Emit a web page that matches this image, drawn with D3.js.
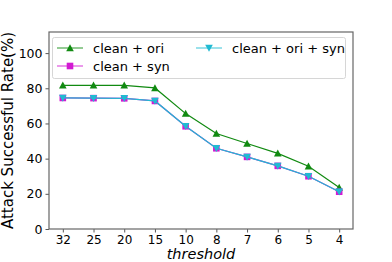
<!DOCTYPE html>
<html>
<head>
<meta charset="utf-8">
<script src="https://cdn.jsdelivr.net/npm/d3@7"></script>
<style>
  body { margin: 0; background: #fff; }
  text { font-family: "DejaVu Sans", sans-serif; fill: #000; }
</style>
</head>
<body>
<script>
var thresholds = ["32", "25", "20", "15", "10", "8", "7", "6", "5", "4"];
var cleanOri = [81.7, 81.7, 81.7, 80.2, 65.6, 54.3, 48.6, 43.0, 35.7, 23.6];
var cleanSyn = [74.5, 74.4, 74.3, 72.8, 58.4, 45.9, 41.0, 35.9, 30.0, 21.2];
var cleanOriSyn = [74.5, 74.4, 74.3, 72.8, 58.4, 45.9, 41.0, 35.9, 30.0, 21.2];
var yTicks = [0, 20, 40, 60, 80, 100];

var series = [
    { name: "clean + ori", values: cleanOri, color: "#118a11", symbol: "up" },
    { name: "clean + syn", values: cleanSyn, color: "#d21ad2", symbol: "square" },
    { name: "clean + ori + syn", values: cleanOriSyn, color: "#20bad2", symbol: "down" }
];

var width = 392, height = 262;
var mLeft = 49, mRight = 353, mTop = 32, mBottom = 229;

var svg = d3.select("body").append("svg")
    .attr("width", width)
    .attr("height", height);

var xScale = d3.scaleLinear()
    .domain([-0.45, thresholds.length - 1 + 0.45])
    .range([mLeft, mRight]);
var yScale = d3.scaleLinear()
    .domain([0, 112])
    .range([mBottom, mTop]);

// marker shapes
function marker(g, symbol, color, x, y) {
    var s = 3.3;
    if (symbol === "square") {
        g.append("rect")
            .attr("x", x - s).attr("y", y - s)
            .attr("width", 2 * s).attr("height", 2 * s)
            .attr("fill", color);
    } else {
        var dir = symbol === "up" ? -1 : 1;
        g.append("path")
            .attr("d", "M" + x + "," + (y + dir * 3.8) +
                "L" + (x - 3.8) + "," + (y - dir * 3.2) +
                "L" + (x + 3.8) + "," + (y - dir * 3.2) + "Z")
            .attr("fill", color);
    }
}

var line = d3.line()
    .x(function (d, i) { return xScale(i); })
    .y(function (d) { return yScale(d); });

series.forEach(function (s) {
    var g = svg.append("g");
    g.append("path")
        .attr("d", line(s.values))
        .attr("fill", "none")
        .attr("stroke", s.color)
        .attr("stroke-width", 1.2);
    s.values.forEach(function (v, i) {
        marker(g, s.symbol, s.color, xScale(i), yScale(v));
    });
});

// axes
var xAxis = svg.append("g")
    .attr("transform", "translate(0," + mBottom + ")")
    .call(d3.axisBottom(xScale)
        .tickValues(d3.range(thresholds.length))
        .tickFormat(function (d) { return thresholds[d]; })
        .tickSizeOuter(0)
        .tickSize(3.5)
        .tickPadding(2.5));
var yAxis = svg.append("g")
    .attr("transform", "translate(" + mLeft + ",0)")
    .call(d3.axisLeft(yScale)
        .tickValues(yTicks)
        .tickSizeOuter(0)
        .tickSize(3.5)
        .tickPadding(3));
[xAxis, yAxis].forEach(function (a) {
    a.select(".domain").remove();
    a.selectAll("line").attr("stroke", "#444").attr("stroke-width", 0.9);
    a.selectAll("text").style("font-size", "12.5px").attr("fill", "#000");
});
xAxis.selectAll("text").style("font-size", "12px");

// frame
svg.append("rect")
    .attr("x", mLeft).attr("y", mTop)
    .attr("width", mRight - mLeft).attr("height", mBottom - mTop)
    .attr("fill", "none")
    .attr("stroke", "#666")
    .attr("stroke-width", 1.2);

// labels
svg.append("text")
    .attr("transform", "translate(13," + ((mTop + mBottom) / 2) + ") rotate(-90)")
    .attr("text-anchor", "middle")
    .style("font-size", "15px")
    .text("Attack Successful Rate(%)");
svg.append("text")
    .attr("x", (mLeft + mRight) / 2)
    .attr("y", 259)
    .attr("text-anchor", "middle")
    .style("font-size", "14.5px")
    .style("font-style", "italic")
    .text("threshold");

// legend
var legend = svg.append("g");
legend.append("rect")
    .attr("x", 52.5).attr("y", 37.5)
    .attr("width", 293).attr("height", 41)
    .attr("rx", 2)
    .attr("fill", "#fff")
    .attr("fill-opacity", 0.8)
    .attr("stroke", "#d6d6d6");
var legendPos = [[57, 48], [57, 66], [196, 48]];
series.forEach(function (s, i) {
    var p = legendPos[i];
    legend.append("line")
        .attr("x1", p[0]).attr("x2", p[0] + 26)
        .attr("y1", p[1]).attr("y2", p[1])
        .attr("stroke", s.color)
        .attr("stroke-opacity", 0.6)
        .attr("stroke-width", 1.5);
    marker(legend, s.symbol, s.color, p[0] + 13, p[1]);
    legend.append("text")
        .attr("x", p[0] + 36).attr("y", p[1])
        .attr("dy", "0.35em")
        .style("font-size", "13px")
        .text(s.name);
});
</script>
</body>
</html>
